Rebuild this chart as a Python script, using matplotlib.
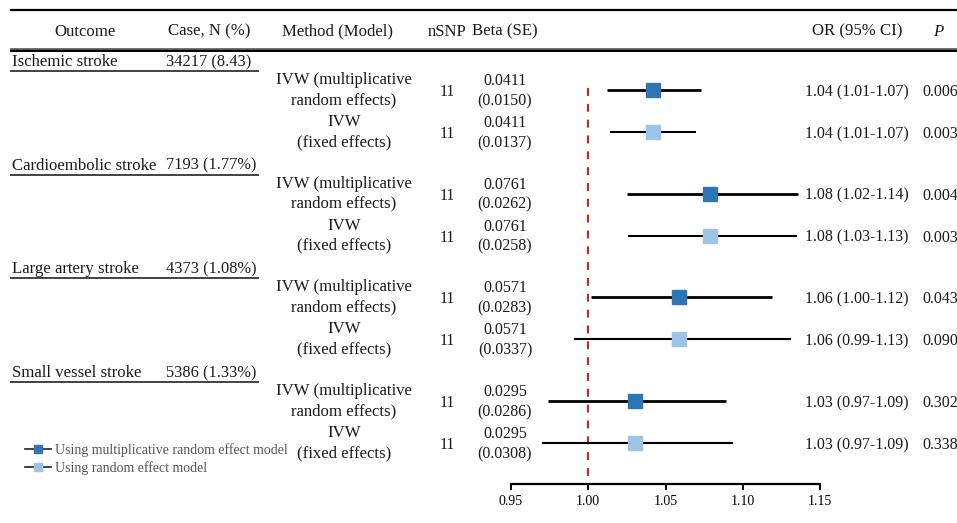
import matplotlib
matplotlib.use("Agg")
import matplotlib.pyplot as plt
from matplotlib.lines import Line2D

plt.rcParams['font.family'] = ['Liberation Serif', 'DejaVu Serif']

# ---------------- data ----------------
outcomes = ["Ischemic stroke", "Cardioembolic stroke", "Large artery stroke", "Small vessel stroke"]
cases = ["34217 (8.43)", "7193 (1.77%)", "4373 (1.08%)", "5386 (1.33%)"]
methods = [["IVW (multiplicative", "random effects)"], ["IVW", "(fixed effects)"]]
nsnp = [11, 11, 11, 11, 11, 11, 11, 11]
beta = ["0.0411", "0.0411", "0.0761", "0.0761", "0.0571", "0.0571", "0.0295", "0.0295"]
se = ["(0.0150)", "(0.0137)", "(0.0262)", "(0.0258)", "(0.0283)", "(0.0337)", "(0.0286)", "(0.0308)"]
or_point = [1.042, 1.042, 1.079, 1.079, 1.059, 1.059, 1.030, 1.030]
ci_lo = [1.012, 1.014, 1.025, 1.026, 1.002, 0.991, 0.974, 0.970]
ci_hi = [1.073, 1.070, 1.136, 1.135, 1.119, 1.131, 1.089, 1.094]
or_text = ["1.04 (1.01-1.07)", "1.04 (1.01-1.07)", "1.08 (1.02-1.14)", "1.08 (1.03-1.13)",
           "1.06 (1.00-1.12)", "1.06 (0.99-1.13)", "1.03 (0.97-1.09)", "1.03 (0.97-1.09)"]
p_text = ["0.006", "0.003", "0.004", "0.003", "0.043", "0.090", "0.302", "0.338"]
xticks = [0.95, 1.00, 1.05, 1.10, 1.15]
xticklabels = ["0.95", "1.00", "1.05", "1.10", "1.15"]
legend_labels = ["Using multiplicative random effect model", "Using random effect model"]

# ---------------- style ----------------
W, H = 957, 523
colors = ["#2E75B6", "#9DC3E6"]
lws = [2.0, 1.5]
txt = "#1a1a1a"
fs_w = 12.1   # word text
fs_n = 11.5   # numeric text

fig = plt.figure(figsize=(W / 100, H / 100), dpi=100)
tab = fig.add_axes([0, 0, 1, 1])
tab.set_xlim(0, W)
tab.set_ylim(H, 0)
tab.axis("off")

# forest axes: x 0.95..1.15 -> px 511..820 ; y px 10..484
ax_l, ax_r, ax_t, ax_b = 511, 820, 10, 484
ax = fig.add_axes([ax_l / W, 1 - ax_b / H, (ax_r - ax_l) / W, (ax_b - ax_t) / H])
ax.set_xlim(0.95, 1.15)
ax.set_ylim(ax_b, ax_t)
ax.patch.set_alpha(0)
for s in ["top", "right", "left"]:
    ax.spines[s].set_visible(False)
ax.spines["bottom"].set_linewidth(1.6)
ax.spines["bottom"].set_color("black")
ax.set_yticks([])
ax.set_xticks(xticks)
ax.set_xticklabels(xticklabels, fontsize=10)
ax.tick_params(axis="x", direction="out", length=4, width=1.4, pad=4, colors="black")

# layout of rows
first_row = 90
group_step = 103.7
row_step = 42
row_y = []
for g in range(len(outcomes)):
    for k in range(2):
        row_y.append(first_row + g * group_step + k * row_step)

# header lines
tab.plot([10, W], [10, 10], color="black", lw=1.6, solid_capstyle="butt")
tab.plot([10, W], [50, 50], color="#555555", lw=2.6, solid_capstyle="butt")
tab.plot([10, W], [50.6, 50.6], color="black", lw=1.4, solid_capstyle="butt")

hy = 31.5
tab.text(85, hy, "Outcome", ha="center", va="center", fontsize=fs_w, color=txt)
tab.text(209, hy, "Case, N (%)", ha="center", va="center", fontsize=fs_w, color=txt)
tab.text(338, hy, "Method (Model)", ha="center", va="center", fontsize=fs_w, color=txt)
tab.text(447, hy, "nSNP", ha="center", va="center", fontsize=fs_w, color=txt)
tab.text(505, hy, "Beta (SE)", ha="center", va="center", fontsize=fs_w, color=txt)
tab.text(857, hy, "OR (95% CI)", ha="center", va="center", fontsize=fs_w, color=txt)
tab.text(938, hy, "P", ha="center", va="center", fontsize=fs_w, color=txt, style="italic")

# outcome headers
for g in range(len(outcomes)):
    oy = row_y[2 * g] - 28
    tab.text(12, oy, outcomes[g], ha="left", va="center", fontsize=fs_w, color=txt)
    tab.text(166, oy, cases[g], ha="left", va="center", fontsize=fs_n + 0.3, color=txt)
    tab.plot([10, 259], [oy + 9, oy + 9], color="#222222", lw=1.2, solid_capstyle="butt")

# row texts
for i, y in enumerate(row_y):
    k = i % 2
    tab.text(344, y - 10, methods[k][0], ha="center", va="center", fontsize=fs_w, color=txt)
    tab.text(344, y + 10, methods[k][1], ha="center", va="center", fontsize=fs_w, color=txt)
    tab.text(447, y + 2, str(nsnp[i]), ha="center", va="center", fontsize=fs_n, color=txt)
    tab.text(505, y - 9, beta[i], ha="center", va="center", fontsize=fs_n, color=txt)
    tab.text(505, y + 11, se[i], ha="center", va="center", fontsize=fs_n, color=txt)
    tab.text(805, y + 2, or_text[i], ha="left", va="center", fontsize=fs_n, color=txt)
    tab.text(922, y + 2, p_text[i], ha="left", va="center", fontsize=fs_n, color=txt)

# reference line
ax.vlines(1.0, row_y[0] - 2, ax_b, colors="#D62020", linestyles=(0, (3.8, 3.8)), lw=1.5, zorder=1)

# CIs and points
for i, y in enumerate(row_y):
    k = i % 2
    ax.plot([ci_lo[i], ci_hi[i]], [y, y], color="black", lw=lws[k], zorder=2, solid_capstyle="butt")
    ax.plot(or_point[i], y, marker="s", markersize=10.5, color=colors[k],
            markeredgecolor=colors[k], zorder=3)

# legend
handles = [Line2D([0], [0], color="#333333", lw=1.3, marker="s", markersize=6,
                  markerfacecolor=c, markeredgecolor=c) for c in colors]
fig.legend(handles, legend_labels, loc="upper left", bbox_to_anchor=(15 / W, 1 - 433 / H),
           frameon=False, fontsize=10, labelcolor="#555555", handlelength=1.9,
           handletextpad=0.3, labelspacing=0.35, borderpad=0.2)

fig.savefig("out.png", dpi=100)
